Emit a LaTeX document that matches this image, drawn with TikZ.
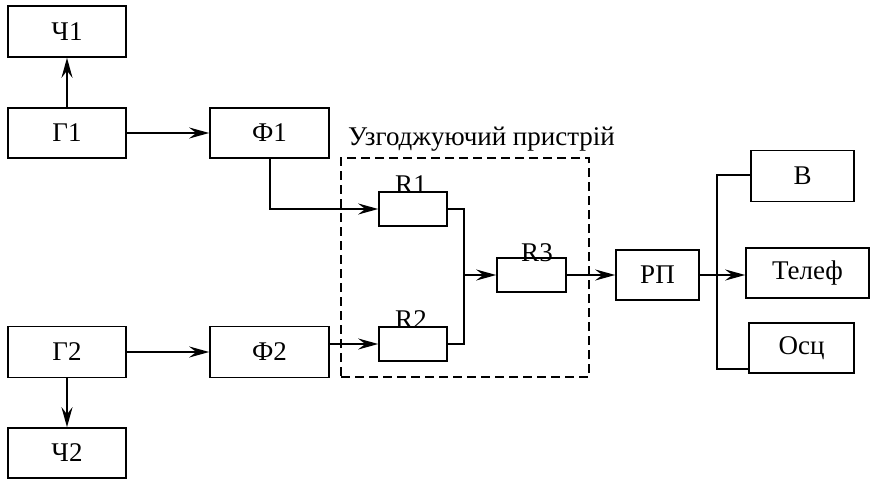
\documentclass[tikz,border=0pt]{standalone}
\usepackage{fontspec}
\setmainfont{Liberation Serif}
\usetikzlibrary{arrows.meta}
\begin{document}
\begin{tikzpicture}[x=1pt,y=-1pt,
  blk/.style={draw,line width=1.6pt,inner sep=0pt,font=\fontsize{27}{31}\selectfont},
  res/.style={draw,line width=1.6pt,inner sep=0pt,minimum width=68pt,minimum height=34pt},
  lbl/.style={inner sep=0pt,anchor=base,font=\fontsize{27}{31}\selectfont},
  con/.style={line width=2pt},
  arr/.style={con,-{Stealth[length=20pt,width=11pt,inset=7pt]}}]
\useasboundingbox (0,0) rectangle (871,479);
% blocks
\node[blk,minimum width=118pt,minimum height=51pt] (ch1) at (67,31.5) {Ч1};
\node[blk,minimum width=118pt,minimum height=50pt] (g1) at (67,133) {Г1};
\node[blk,minimum width=119pt,minimum height=50pt] (f1) at (269.5,133) {Ф1};
\node[blk,minimum width=118pt,minimum height=51pt] (g2) at (67,352) {Г2};
\node[blk,minimum width=119pt,minimum height=51pt] (f2) at (269.5,352) {Ф2};
\node[blk,minimum width=118pt,minimum height=50pt] (ch2) at (67,453) {Ч2};
\node[blk,minimum width=83pt,minimum height=50pt] (rp) at (657.5,275) {РП};
\node[blk,minimum width=103pt,minimum height=51pt] (b) at (802.5,176) {В};
\node[blk,minimum width=123pt,minimum height=50pt] (tel) at (807.5,273) {Телеф};
\node[blk,minimum width=105pt,minimum height=50pt] (osc) at (801.5,348) {Осц};
% resistors
\node[res] (r1) at (413,209) {};
\node[res] (r2) at (413,344) {};
\node[res,minimum width=69pt] (r3) at (531.5,275) {};
\node[lbl] (lr1) at (411,193) {R1};
\node[lbl] (lr2) at (411,328) {R2};
\node[lbl] (lr3) at (537,261) {R3};
% matching device
\node[draw,line width=1.6pt,dash pattern=on 9pt off 5pt,minimum width=248pt,minimum height=219pt,inner sep=0pt] (box) at (465,267.5) {};
\node[inner sep=0pt,anchor=base west,font=\fontsize{27}{31}\selectfont] (title) at (348,145) {Узгоджуючий пристрій};
% connectors
\draw[arr] (g1.north) -- (ch1.south);
\draw[arr] (g1.east) -- (f1.west);
\draw[arr] (g2.south) -- (ch2.north);
\draw[arr] (g2.east) -- (f2.west);
\draw[arr] (f1.south) -- (f1.south |- r1.west) -- (r1.west);
\draw[arr] (f2.east |- r2.west) -- (r2.west);
\coordinate (j) at (464,275);
\draw[con,line width=1.6pt] (r1.east) -- (r1.east -| j) -- (r2.east -| j) -- (r2.east);
\draw[arr] (j) -- (r3.west);
\draw[arr] (r3.east) -- (rp.west);
\coordinate (bt) at (717,175);
\coordinate (bb) at (717,369);
\draw[con,line width=1.6pt] (b.west |- bt) -- (bt) -- (bb) -- (osc.west |- bb);
\draw[arr] (rp.east) -- (rp.east -| tel.west);
\end{tikzpicture}
\end{document}
